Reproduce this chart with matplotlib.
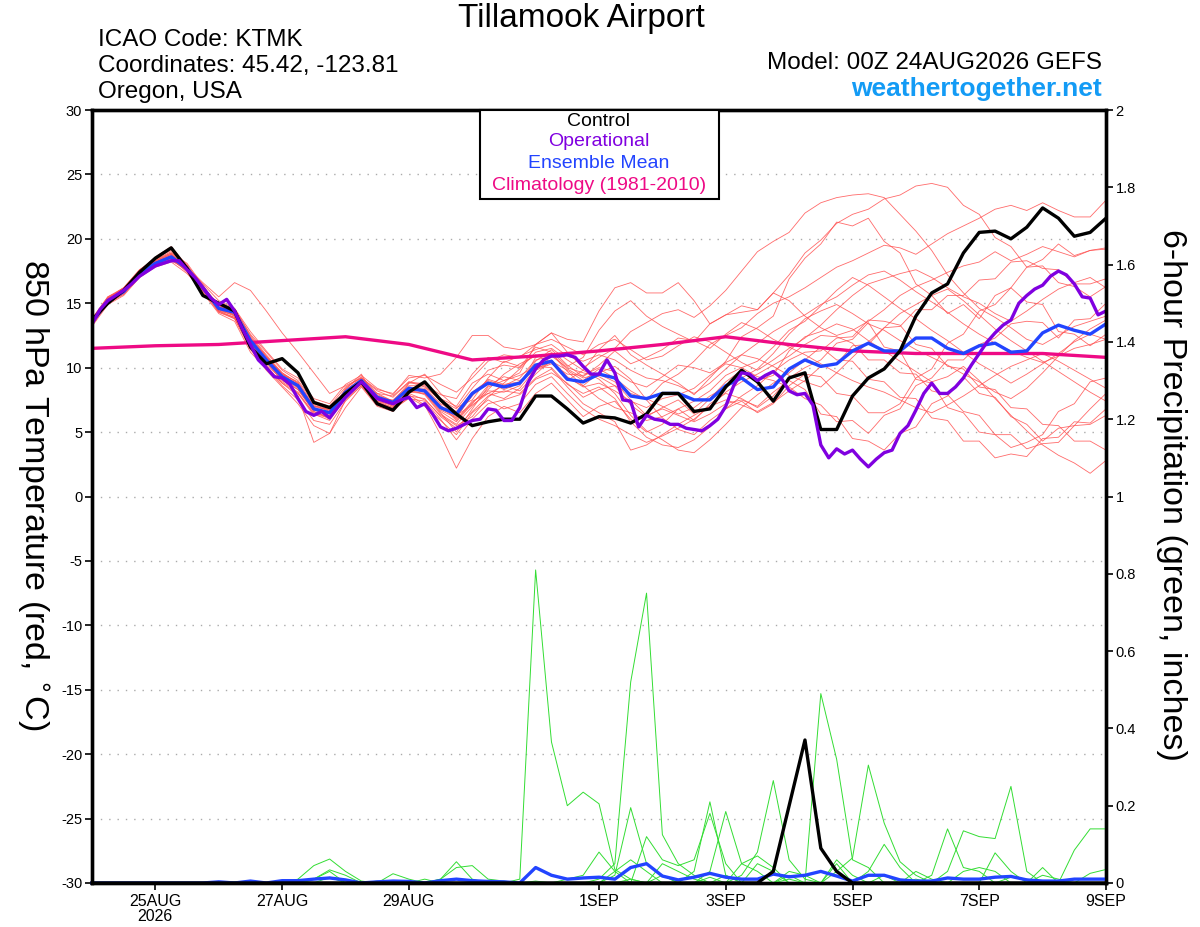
import numpy as np
import matplotlib
matplotlib.use("Agg")
import matplotlib.pyplot as plt
from matplotlib import font_manager as fm
from matplotlib.patches import Rectangle

names = {f.name for f in fm.fontManager.ttflist}
FONT = "Liberation Sans" if "Liberation Sans" in names else "DejaVu Sans"
plt.rcParams['font.family'] = [FONT, 'DejaVu Sans']

# ---------------- data ----------------
tick_days = [1, 3, 5, 8, 10, 12, 14, 16]
tick_labels = ["25AUG\n2026", "27AUG", "29AUG", "1SEP", "3SEP", "5SEP", "7SEP", "9SEP"]
temp_ticks = [30, 25, 20, 15, 10, 5, 0, -5, -10, -15, -20, -25, -30]
precip_ticks = [0, 0.2, 0.4, 0.6, 0.8, 1.0, 1.2, 1.4, 1.6, 1.8, 2.0]
precip_labels = ["0", "0.2", "0.4", "0.6", "0.8", "1", "1.2", "1.4", "1.6", "1.8", "2"]

control_t = [13.7, 15.0, 16.0, 17.4, 18.5, 19.3, 17.7, 15.6, 15.0, 14.4,
             11.6, 10.3, 10.7, 9.6, 7.3, 6.9, 8.0, 8.9, 7.2, 6.7,
             8.1, 8.9, 7.5, 6.4, 5.5, 5.8, 6.0, 6.0, 7.8, 7.8,
             6.8, 5.7, 6.2, 6.1, 5.7, 6.4, 8.0, 8.0, 6.6, 6.8,
             8.5, 9.8, 8.9, 7.4, 9.2, 9.6, 5.2, 5.2, 7.8, 9.2,
             9.9, 11.3, 14.0, 15.8, 16.5, 18.9, 20.5, 20.6, 20.0, 20.9,
             22.4, 21.6, 20.2, 20.5, 21.6]

mean_t = [13.5, 15.2, 15.9, 17.3, 18.1, 18.6, 17.7, 16.2, 14.6, 14.3,
          12.1, 10.6, 9.3, 8.6, 6.8, 6.5, 8.1, 9.0, 7.7, 7.3,
          8.4, 8.2, 6.9, 6.4, 8.0, 8.8, 8.5, 8.8, 10.2, 10.5,
          9.1, 8.9, 9.5, 9.2, 7.8, 7.6, 8.0, 8.0, 7.5, 7.5,
          8.6, 9.2, 8.3, 8.5, 9.9, 10.6, 10.1, 10.3, 11.3, 11.9,
          11.3, 11.3, 12.3, 12.3, 11.5, 11.1, 11.7, 11.9, 11.2, 11.3,
          12.7, 13.3, 12.9, 12.6, 13.4]

# operational run, 3-hourly
oper_t = [13.4, 14.5, 15.2, 15.6, 16.0, 16.5, 17.1, 17.5, 17.9, 18.1,
          18.3, 18.3, 17.6, 17.0, 16.2, 15.4, 14.9, 15.3, 14.4, 13.0,
          11.8, 10.6, 10.0, 9.3, 9.2, 8.7, 7.6, 6.6, 6.3, 6.6,
          6.1, 6.9, 7.7, 8.3, 8.9, 8.3, 7.6, 7.4, 7.2, 7.5,
          7.7, 6.9, 7.2, 6.4, 5.4, 5.1, 5.3, 5.6, 5.9, 6.0,
          6.8, 6.7, 5.9, 5.9, 6.9, 8.8, 9.9, 10.6, 10.9, 10.9,
          11.0, 10.8, 10.1, 9.5, 9.5, 10.6, 9.6, 7.5, 7.4, 5.4,
          6.3, 6.0, 5.9, 5.6, 5.6, 5.3, 5.2, 5.1, 5.5, 6.0,
          7.0, 8.6, 9.6, 9.5, 9.0, 9.4, 9.7, 9.2, 8.2, 7.9,
          8.0, 7.1, 4.0, 3.0, 3.7, 3.3, 3.6, 2.9, 2.3, 2.9,
          3.4, 3.6, 4.9, 5.5, 6.7, 8.0, 8.8, 8.0, 8.0, 8.5,
          9.2, 10.2, 11.1, 12.0, 12.7, 13.3, 13.7, 15.0, 15.6, 16.1,
          16.4, 17.1, 17.5, 17.2, 16.5, 15.5, 15.4, 14.1, 14.4]

clim_days = list(range(17))
clim_t = [11.5, 11.7, 11.8, 12.1, 12.4, 11.8, 10.6, 10.9, 11.3, 11.8,
          12.4, 11.8, 11.3, 11.1, 11.1, 11.1, 10.8]

members_t = [
    [13.8, 15.5, 16.1, 17.5, 18.6, 19.4, 17.9, 16.0, 14.9, 14.0, 11.8, 10.2, 9.1, 8.0, 6.5, 6.2, 8.3, 9.5, 7.4, 6.9, 8.8, 9.5,
     8.0, 6.9, 7.5, 9.2, 10.5, 10.1, 11.0, 10.4, 9.0, 9.8, 11.4, 12.5, 11.0, 10.2, 9.5, 8.8, 7.9, 9.2, 10.5, 12.4, 13.1, 14.0,
     16.9, 18.5, 19.6, 21.3, 21.0, 21.6, 19.8, 18.9, 16.5, 15.6, 14.2, 14.9, 13.8, 15.6, 16.2, 17.8, 18.4, 19.6, 18.7, 19.1, 19.2],
    [13.4, 15.0, 15.7, 17.0, 17.9, 18.3, 17.6, 16.5, 15.2, 14.6, 12.5, 11.0, 9.6, 8.8, 7.0, 6.9, 8.0, 8.7, 8.0, 7.8, 8.9, 8.5,
     7.5, 6.8, 8.4, 9.8, 10.2, 10.0, 11.6, 11.2, 10.1, 10.8, 12.9, 14.4, 15.2, 14.0, 13.2, 12.6, 12.0, 13.4, 14.1, 14.8, 14.5, 15.8,
     17.2, 18.9, 19.9, 21.2, 21.9, 22.3, 23.1, 23.4, 24.1, 24.3, 24.0, 22.6, 21.9, 20.1, 19.4, 17.8, 17.9, 16.6, 16.3, 15.5, 16.3],
    [13.6, 15.3, 16.0, 17.4, 18.3, 18.9, 17.8, 16.3, 14.5, 14.1, 12.0, 10.4, 9.0, 8.3, 6.6, 6.0, 7.8, 9.1, 7.7, 7.0, 8.2, 8.0,
     6.5, 5.0, 6.8, 8.5, 9.0, 9.6, 11.8, 12.7, 11.2, 10.0, 10.8, 11.5, 12.8, 13.5, 14.2, 14.5, 13.9, 14.8, 16.0, 17.5, 19.0, 19.8,
     20.5, 22.0, 22.8, 23.2, 23.4, 23.5, 23.2, 21.9, 20.6, 19.1, 17.2, 15.8, 14.6, 13.9, 13.1, 12.2, 11.8, 12.5, 13.2, 13.6, 14.0],
    [13.3, 15.1, 15.8, 17.2, 18.0, 18.4, 17.5, 16.1, 14.7, 14.5, 12.4, 10.9, 9.5, 8.9, 7.2, 6.7, 8.2, 8.8, 7.6, 7.5, 8.6, 8.6,
     7.4, 6.0, 7.4, 8.0, 7.6, 8.4, 9.9, 10.5, 9.8, 9.0, 9.9, 9.2, 8.2, 7.5, 8.8, 9.5, 10.5, 11.8, 12.5, 13.1, 14.2, 15.0,
     15.5, 16.2, 17.0, 17.8, 18.3, 18.9, 19.5, 19.3, 18.8, 19.6, 20.4, 21.0, 21.6, 22.3, 22.6, 22.2, 22.8, 22.2, 21.7, 21.7, 23.0],
    [13.7, 15.4, 16.2, 17.6, 18.4, 18.9, 18.1, 16.4, 14.4, 13.9, 11.5, 9.8, 8.5, 7.2, 5.5, 4.9, 6.9, 8.5, 7.0, 6.6, 7.9, 7.1,
     4.8, 2.2, 4.5, 6.2, 7.0, 6.5, 8.0, 8.8, 7.5, 6.2, 7.0, 7.4, 6.0, 5.0, 5.6, 6.8, 5.9, 7.2, 8.0, 7.6, 6.9, 7.8,
     9.2, 10.0, 10.6, 11.9, 12.2, 13.5, 11.6, 11.3, 9.1, 8.8, 6.9, 6.5, 5.0, 4.8, 3.8, 4.2, 4.8, 6.6, 7.2, 8.9, 9.2],
    [13.5, 15.1, 15.9, 17.1, 18.0, 18.6, 17.8, 16.6, 15.5, 16.6, 16.0, 14.4, 12.7, 11.2, 9.6, 8.0, 8.6, 9.2, 8.3, 8.0, 9.2, 9.4,
     8.7, 8.1, 9.2, 10.5, 11.0, 10.8, 11.8, 12.7, 12.2, 12.0, 14.4, 16.2, 16.6, 15.8, 15.8, 16.6, 15.2, 13.4, 14.1, 14.3, 14.5, 15.8,
     15.2, 14.0, 13.1, 12.5, 12.9, 13.6, 14.5, 15.6, 16.3, 16.8, 17.4, 17.9, 18.2, 19.0, 18.3, 18.8, 19.4, 19.0, 18.6, 19.1, 19.3],
    [13.6, 15.2, 16.0, 17.3, 18.2, 18.8, 17.6, 15.9, 14.3, 13.9, 11.7, 10.1, 8.8, 7.8, 4.2, 4.9, 7.5, 8.6, 7.2, 6.8, 7.6, 7.4,
     6.0, 4.4, 6.0, 7.2, 7.5, 7.9, 9.1, 9.6, 8.8, 7.7, 8.3, 8.6, 7.1, 6.2, 6.9, 7.5, 6.4, 7.6, 8.9, 9.8, 9.0, 9.4,
     11.3, 12.4, 12.8, 13.4, 13.0, 12.1, 11.3, 10.5, 9.7, 8.9, 9.3, 10.1, 9.0, 7.6, 6.3, 5.1, 4.0, 3.2, 2.6, 1.8, 2.8],
    [13.4, 15.0, 15.8, 17.2, 18.0, 18.5, 17.4, 15.8, 14.2, 13.6, 11.2, 9.9, 8.8, 8.0, 6.3, 6.2, 7.9, 8.8, 7.3, 6.9, 8.3, 7.9,
     6.4, 5.6, 7.0, 8.2, 8.1, 8.6, 10.8, 11.1, 9.9, 9.2, 9.5, 8.9, 7.5, 6.3, 6.8, 6.3, 5.8, 6.4, 7.2, 7.5, 7.0, 8.1,
     9.0, 8.3, 6.4, 6.2, 4.5, 4.3, 3.6, 4.9, 5.4, 7.2, 7.8, 9.3, 8.0, 7.7, 6.2, 5.6, 4.3, 5.3, 5.5, 6.8, 8.0],
    [13.5, 15.3, 16.0, 17.4, 18.2, 18.7, 17.9, 16.3, 14.8, 14.4, 12.3, 10.8, 9.4, 8.5, 6.9, 6.4, 8.4, 9.3, 8.0, 7.4, 8.8, 8.8,
     7.6, 7.0, 8.8, 9.5, 9.0, 9.4, 10.1, 10.0, 8.7, 8.0, 8.5, 7.6, 5.8, 4.6, 4.0, 3.8, 4.4, 5.4, 6.8, 7.4, 6.5, 7.2,
     8.6, 9.5, 9.3, 8.0, 7.8, 6.5, 6.5, 7.2, 9.2, 9.9, 11.9, 12.6, 14.4, 14.9, 16.2, 15.1, 14.9, 12.8, 12.6, 11.7, 12.6],
    [13.7, 15.4, 16.1, 17.5, 18.3, 18.8, 17.7, 16.1, 14.6, 14.2, 12.1, 10.5, 9.2, 8.4, 6.7, 6.3, 8.0, 8.9, 7.5, 7.0, 8.0, 7.5,
     6.3, 5.5, 6.2, 7.7, 8.8, 9.9, 11.2, 11.5, 10.6, 9.8, 9.1, 8.0, 6.3, 5.1, 4.4, 3.6, 3.4, 4.4, 5.6, 6.9, 7.9, 8.8,
     9.6, 10.6, 11.6, 10.6, 10.5, 9.1, 8.9, 7.7, 7.6, 6.1, 5.9, 4.3, 4.3, 3.0, 3.3, 3.1, 4.5, 4.6, 5.8, 5.7, 6.8],
    [13.2, 14.9, 15.6, 17.0, 17.8, 18.2, 17.3, 16.0, 14.7, 14.5, 12.6, 11.2, 9.8, 9.0, 7.4, 7.0, 8.5, 9.2, 8.2, 7.7, 8.9, 8.7,
     7.9, 7.6, 9.5, 10.8, 10.4, 10.9, 11.4, 11.8, 10.9, 10.5, 11.0, 10.6, 9.8, 9.2, 9.0, 8.6, 8.0, 8.8, 9.9, 11.0, 11.9, 12.8,
     13.5, 14.1, 14.9, 15.5, 16.4, 17.2, 17.5, 16.8, 15.9, 15.1, 14.3, 13.4, 12.6, 11.9, 11.3, 10.8, 10.4, 10.9, 11.5, 11.8, 12.2],
    [13.5, 15.2, 15.9, 17.3, 18.1, 18.6, 17.7, 16.2, 14.5, 14.0, 11.9, 10.4, 9.1, 8.3, 6.6, 6.1, 7.6, 8.8, 7.4, 7.1, 8.1, 8.0,
     6.7, 6.1, 7.9, 8.9, 8.3, 8.8, 10.5, 11.4, 10.2, 9.3, 10.2, 11.3, 10.3, 10.8, 11.4, 12.3, 12.1, 11.5, 12.6, 13.5, 13.0, 12.2,
     11.6, 11.0, 10.3, 9.6, 9.0, 8.5, 8.1, 7.5, 6.9, 6.5, 7.1, 7.8, 8.6, 9.4, 10.1, 10.6, 11.1, 10.5, 9.8, 9.1, 8.4],
    [13.8, 15.5, 16.2, 17.6, 18.5, 19.1, 18.0, 16.2, 14.3, 13.8, 11.4, 10.0, 8.6, 7.5, 5.9, 5.6, 7.4, 8.6, 7.1, 6.7, 7.7, 7.0,
     5.9, 4.8, 6.5, 7.5, 6.8, 7.2, 8.7, 9.3, 8.0, 6.8, 6.0, 5.5, 4.8, 4.2, 4.7, 5.3, 6.0, 7.0, 8.1, 8.9, 9.5, 10.2,
     10.9, 11.8, 12.5, 12.4, 11.9, 10.6, 10.6, 9.6, 9.5, 8.2, 7.9, 6.6, 6.3, 4.8, 4.8, 3.7, 4.1, 4.2, 5.5, 5.6, 6.3],
    [13.4, 15.1, 15.8, 17.1, 17.9, 18.4, 17.6, 16.3, 14.9, 14.6, 12.8, 11.3, 9.9, 9.2, 7.6, 7.2, 8.7, 9.4, 8.4, 7.9, 9.4, 9.2,
     9.5, 10.8, 12.5, 12.5, 11.6, 11.4, 11.8, 12.2, 11.6, 11.0, 11.8, 12.2, 11.4, 10.6, 10.9, 11.7, 12.4, 12.0, 11.2, 10.4, 9.8, 10.6,
     11.5, 12.3, 13.3, 14.5, 15.6, 16.5, 16.9, 17.3, 17.6, 17.0, 16.2, 15.5, 15.0, 14.2, 13.6, 14.4, 15.3, 16.1, 16.6, 17.0, 16.2],
    [13.6, 15.3, 16.1, 17.4, 18.2, 18.7, 17.8, 16.0, 14.4, 14.1, 11.9, 10.6, 9.5, 8.7, 6.9, 6.8, 8.2, 9.2, 7.9, 7.4, 8.4, 8.3,
     7.0, 6.3, 7.1, 8.0, 8.6, 8.2, 9.5, 10.6, 9.3, 8.5, 8.8, 8.2, 7.4, 6.9, 7.6, 7.9, 8.4, 9.4, 10.3, 10.0, 9.3, 9.0,
     8.5, 7.6, 7.1, 5.8, 5.9, 4.9, 6.3, 6.8, 8.6, 9.2, 10.6, 10.6, 11.8, 12.3, 13.4, 13.6, 13.5, 12.3, 13.7, 13.8, 15.0],
    [13.5, 15.2, 16.0, 17.3, 18.1, 18.6, 17.6, 16.2, 14.6, 14.2, 12.0, 10.7, 9.4, 8.7, 7.1, 6.6, 8.1, 8.9, 7.8, 7.3, 8.3, 8.1,
     6.6, 5.8, 7.2, 8.6, 9.3, 9.0, 9.8, 10.3, 9.5, 9.4, 10.0, 9.7, 8.9, 8.5, 9.3, 10.2, 10.0, 9.6, 10.4, 11.0, 10.7, 10.1,
     9.4, 8.9, 8.5, 9.6, 10.8, 12.0, 13.1, 14.2, 14.9, 15.6, 16.1, 15.2, 14.1, 13.0, 12.1, 11.3, 10.5, 9.7, 8.9, 8.1, 7.4],
    [13.3, 15.0, 15.7, 17.1, 17.9, 18.5, 17.5, 16.1, 14.8, 14.4, 12.2, 10.8, 9.6, 8.8, 7.0, 6.7, 8.3, 9.1, 7.8, 7.4, 8.5, 8.4,
     7.2, 6.6, 8.1, 9.0, 8.6, 9.2, 10.6, 10.9, 10.0, 9.6, 9.3, 8.6, 8.0, 7.6, 7.0, 6.4, 6.9, 7.8, 8.5, 9.2, 9.9, 11.1,
     12.6, 13.8, 14.4, 14.9, 14.2, 13.4, 12.9, 12.1, 11.4, 10.8, 10.2, 9.5, 8.9, 8.1, 7.6, 8.4, 9.6, 10.9, 12.1, 13.0, 13.7],
    [13.6, 15.3, 16.0, 17.4, 18.3, 18.8, 17.9, 16.4, 14.7, 14.3, 12.3, 10.9, 9.5, 8.6, 6.8, 6.5, 8.1, 8.9, 7.7, 7.3, 8.4, 8.3,
     7.1, 5.9, 7.3, 8.3, 9.5, 10.3, 10.9, 11.1, 9.7, 8.6, 7.6, 6.9, 6.5, 5.9, 6.2, 6.8, 7.4, 8.2, 9.4, 10.0, 10.5, 11.6,
     12.9, 13.6, 14.8, 16.0, 17.0, 16.4, 15.5, 14.6, 13.8, 12.9, 12.1, 11.2, 10.3, 9.6, 8.8, 9.5, 10.3, 11.1, 12.0, 12.6, 12.2],
    [13.5, 15.1, 15.9, 17.3, 18.1, 18.6, 17.8, 16.1, 14.5, 14.2, 12.0, 10.5, 9.2, 8.5, 6.8, 6.4, 8.0, 9.0, 7.6, 7.2, 8.4, 8.2,
     6.8, 6.2, 7.8, 9.1, 8.7, 8.9, 9.9, 10.4, 9.2, 8.6, 9.6, 10.1, 9.1, 7.5, 6.1, 5.2, 4.8, 5.9, 6.8, 7.8, 8.6, 9.7,
     10.6, 11.2, 11.3, 12.3, 12.4, 13.7, 13.6, 13.3, 11.8, 11.5, 10.1, 9.9, 8.5, 8.3, 6.9, 6.8, 5.6, 5.5, 4.3, 4.3, 3.6],
    [13.7, 15.4, 16.2, 17.5, 18.4, 19.0, 17.9, 16.0, 14.4, 13.8, 11.6, 10.0, 8.9, 8.1, 6.4, 5.9, 7.7, 8.7, 7.3, 6.8, 7.8, 7.6,
     6.2, 5.3, 6.6, 7.8, 8.2, 8.0, 9.2, 9.9, 8.5, 7.2, 6.5, 5.8, 3.6, 4.0, 4.8, 5.6, 6.3, 7.0, 7.5, 7.1, 6.6, 7.3,
     8.2, 9.0, 10.1, 10.3, 11.7, 11.8, 13.1, 13.2, 14.5, 14.5, 15.6, 15.6, 16.8, 16.9, 18.2, 18.3, 17.7, 17.6, 16.5, 16.5, 16.9],
]

# precipitation (inches per 6 h); entries not listed are zero
control_p = {43: 0.03, 44: 0.2, 45: 0.37, 46: 0.09, 47: 0.03}
mean_p = {8: 0.003, 10: 0.005, 12: 0.006, 13: 0.006, 14: 0.01, 15: 0.013, 16: 0.008, 18: 0.003, 19: 0.005,
          20: 0.004, 22: 0.006, 23: 0.01, 24: 0.006, 25: 0.004, 26: 0.003, 28: 0.04, 29: 0.02, 30: 0.01,
          31: 0.013, 32: 0.015, 33: 0.01, 34: 0.04, 35: 0.05, 36: 0.018, 37: 0.008, 38: 0.015, 39: 0.025,
          40: 0.015, 41: 0.01, 42: 0.01, 43: 0.023, 44: 0.016, 45: 0.02, 46: 0.03, 47: 0.018, 48: 0.005,
          49: 0.02, 50: 0.02, 51: 0.008, 52: 0.005, 53: 0.005, 54: 0.013, 55: 0.01, 56: 0.01, 57: 0.015,
          58: 0.017, 59: 0.008, 60: 0.005, 61: 0.005, 62: 0.01, 63: 0.01, 64: 0.01}
members_p = [
    {27: 0.01, 28: 0.81, 29: 0.365, 30: 0.2, 31: 0.235, 32: 0.205, 33: 0.035, 34: 0.01},
    {32: 0.01, 33: 0.05, 34: 0.52, 35: 0.75, 36: 0.125, 37: 0.05, 38: 0.02},
    {33: 0.02, 34: 0.195, 35: 0.05, 36: 0.02, 38: 0.03, 39: 0.21, 40: 0.02},
    {30: 0.01, 31: 0.02, 32: 0.08, 33: 0.03, 35: 0.12, 36: 0.06, 37: 0.045, 38: 0.06, 39: 0.18, 40: 0.05},
    {39: 0.03, 40: 0.185, 41: 0.05, 42: 0.07, 43: 0.04},
    {41: 0.02, 42: 0.08, 43: 0.265, 44: 0.06, 45: 0.01},
    {44: 0.02, 46: 0.49, 47: 0.32, 48: 0.06, 49: 0.04},
    {47: 0.03, 48: 0.065, 49: 0.305, 50: 0.155, 51: 0.055, 52: 0.02},
    {49: 0.03, 50: 0.10, 51: 0.04, 53: 0.02, 54: 0.14, 55: 0.04, 56: 0.03},
    {54: 0.03, 55: 0.135, 56: 0.12, 57: 0.115, 58: 0.25, 59: 0.03},
    {57: 0.078, 58: 0.03, 60: 0.04, 62: 0.085, 63: 0.14, 64: 0.14},
    {13: 0.01, 14: 0.045, 15: 0.062, 16: 0.03, 17: 0.005},
    {14: 0.01, 15: 0.034, 16: 0.02, 19: 0.024, 20: 0.01},
    {14: 0.01, 15: 0.03, 22: 0.01, 23: 0.055, 24: 0.01},
    {22: 0.01, 23: 0.04, 24: 0.045, 25: 0.01, 26: 0.005},
    {36: 0.05, 37: 0.03, 38: 0.01, 41: 0.05, 42: 0.03, 44: 0.03, 45: 0.02, 47: 0.05},
    {52: 0.03, 53: 0.01, 55: 0.03, 56: 0.04, 57: 0.03, 60: 0.02, 61: 0.01, 63: 0.025, 64: 0.035},
    {9: 0.003, 10: 0.005, 13: 0.008, 15: 0.015, 18: 0.005, 21: 0.01, 28: 0.005},
    {33: 0.03, 34: 0.06, 35: 0.03, 40: 0.02, 42: 0.05, 43: 0.03, 47: 0.06, 48: 0.02},
    {34: 0.01, 36: 0.02, 39: 0.015, 44: 0.01, 50: 0.02, 52: 0.01, 58: 0.015, 59: 0.01},
]

N6 = 65
days6 = np.arange(N6) * 0.25
days3 = np.arange(len(oper_t)) * 0.125


def dense(d):
    arr = np.zeros(N6)
    for k, v in d.items():
        arr[k] = v
    return arr


# ---------------- figure ----------------
W, H = 1200, 927
fig = plt.figure(figsize=(W / 100, H / 100), dpi=100)
L, R, T, B = 92, 1106, 110, 883
ax = fig.add_axes([L / W, 1 - B / H, (R - L) / W, (B - T) / H])
ax2 = ax.twinx()

RED = "#ff5050"
GREEN = "#33dd33"
PURPLE = "#8000e0"
BLUE = "#2244ff"
MAGENTA = "#ee0a85"

for m in members_t:
    ax.plot(days6, m, color=RED, lw=0.6, alpha=0.85, zorder=2)

ax.plot(clim_days, clim_t, color=MAGENTA, lw=2.4, zorder=4)
ax.plot(days6, mean_t, color=BLUE, lw=2.4, zorder=5)
ax.plot(days6, control_t, color="black", lw=2.4, zorder=6)
ax.plot(days3, oper_t, color=PURPLE, lw=2.4, zorder=7)

for m in members_p:
    ax2.plot(days6, dense(m), color=GREEN, lw=0.7, zorder=2)
ax2.plot(days6, dense(mean_p), color=BLUE, lw=2.4, zorder=5, clip_on=False)
ax2.plot(days6, dense(control_p), color="black", lw=2.4, zorder=6, clip_on=False)

ax.set_xlim(0, 16)
ax.set_ylim(-30, 30)
ax2.set_ylim(0, 2)

ax.set_yticks(temp_ticks)
ax.set_yticklabels([str(t) for t in temp_ticks], fontsize=10.5)
ax2.set_yticks(precip_ticks)
ax2.set_yticklabels(precip_labels, fontsize=10.5)
ax.set_xticks(tick_days)
ax.set_xticklabels(tick_labels, fontsize=11.5, linespacing=1.0)

for t in temp_ticks[1:-1]:
    ax.axhline(t, color="#aaaaaa", lw=1.0, ls=(0, (1, 5)), zorder=1)

for a in (ax, ax2):
    for s in a.spines.values():
        s.set_linewidth(2.4)
        s.set_zorder(10)
    a.tick_params(direction="out", length=5, width=1.2, pad=2)
ax.tick_params(axis="x", length=5, pad=3)

# axis labels
fig.text(32 / W, 1 - 495 / H, "850 hPa Temperature (red, $^{\\circ}$C)", rotation=270,
         ha="center", va="center", fontsize=24.5)
fig.text(1172 / W, 1 - 495 / H, "6-hour Precipitation (green, inches)", rotation=270,
         ha="center", va="center", fontsize=24.5)

# header text
fig.text(581 / W, 1 - 19 / H, "Tillamook Airport", ha="center", va="center", fontsize=24)
fig.text(98 / W, 1 - 40 / H, "ICAO Code: KTMK", ha="left", va="center", fontsize=17.5)
fig.text(98 / W, 1 - 66 / H, "Coordinates: 45.42, -123.81", ha="left", va="center", fontsize=17.5)
fig.text(98 / W, 1 - 92 / H, "Oregon, USA", ha="left", va="center", fontsize=17.5)
fig.text(1102 / W, 1 - 63 / H, "Model: 00Z 24AUG2026 GEFS", ha="right", va="center", fontsize=17.5)
fig.text(1102 / W, 1 - 89 / H, "weathertogether.net", ha="right", va="center", fontsize=19,
         fontweight="bold", color="#139bf5")

# legend box
bx0, bx1, by0, by1 = 480, 719, 110, 199
fig.patches.append(Rectangle((bx0 / W, 1 - by1 / H), (bx1 - bx0) / W, (by1 - by0) / H,
                             transform=fig.transFigure, facecolor="white", edgecolor="black",
                             lw=1.5, zorder=20))
leg_items = [("Control", "black", 121), ("Operational", PURPLE, 142),
             ("Ensemble Mean", BLUE, 164), ("Climatology (1981-2010)", MAGENTA, 185)]
for txt, col, yy in leg_items:
    fig.text(599 / W, 1 - yy / H, txt, ha="center", va="center", fontsize=14, color=col, zorder=21)

fig.savefig("out.png", dpi=100)
